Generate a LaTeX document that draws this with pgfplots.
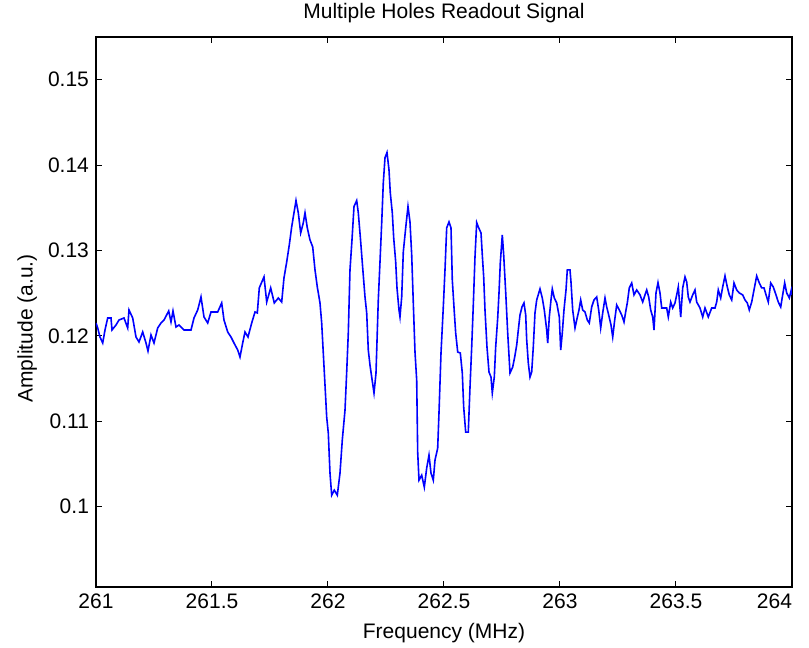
\documentclass[border=0pt]{standalone}
\usepackage{pgfplots}
\pgfplotsset{compat=1.18}
\usepackage{fontspec}
\setmainfont{Liberation Sans}
\begin{document}
\begin{tikzpicture}[font=\fontsize{10.5}{12.6}\selectfont]
\begin{axis}[
  at={(0,0)}, anchor=south west,
  scale only axis, width=348pt, height=275pt,
  xmin=261, xmax=264, ymin=0.0906, ymax=0.155,
  xtick={261,261.5,262,262.5,263,263.5,264},
  xticklabels={261,261.5,262,262.5,263,263.5,\makebox[0pt][r]{264}},
  ytick={0.1,0.11,0.12,0.13,0.14,0.15},
  yticklabels={0.1,0.11,0.12,0.13,0.14,0.15},
  scaled x ticks=false, scaled y ticks=false,
  tick align=inside, major tick length=3pt,
  tick style={black, line width=0.5pt},
  axis line style={black, line width=0.6pt},
  xtick pos=both, ytick pos=both,
  title={Multiple Holes Readout Signal},
  every axis title/.style={at={(axis description cs:0.5,1.0436)}, anchor=center},
  xlabel={Frequency (MHz)},
  xlabel style={at={(axis description cs:0.5,-0.0836)}, anchor=center},
  ylabel={Amplitude (a.u.)},
  ylabel style={at={(axis description cs:-0.099,0.47)}, anchor=center},
  /pgf/number format/assume math mode=true,
]
\addplot[color={rgb,255:red,0;green,0;blue,255}, line width=0.8pt, mark=none] coordinates {
(261.0000,0.12151)(261.0073,0.12093)(261.0172,0.11987)(261.0289,0.11917)(261.0388,0.12069)
(261.0504,0.12210)(261.0647,0.12210)(261.0690,0.12069)(261.0862,0.12128)(261.0991,0.12186)
(261.1207,0.12210)(261.1366,0.12093)(261.1422,0.12304)(261.1582,0.12210)(261.1724,0.11987)
(261.1853,0.11929)(261.2013,0.12046)(261.2155,0.11917)(261.2241,0.11823)(261.2371,0.12011)
(261.2500,0.11917)(261.2659,0.12093)(261.2802,0.12151)(261.2931,0.12186)(261.3134,0.12292)
(261.3233,0.12163)(261.3319,0.12292)(261.3448,0.12104)(261.3578,0.12128)(261.3793,0.12069)
(261.4095,0.12069)(261.4224,0.12210)(261.4384,0.12304)(261.4526,0.12456)(261.4655,0.12222)
(261.4815,0.12151)(261.4957,0.12280)(261.5246,0.12280)(261.5418,0.12386)(261.5517,0.12186)
(261.5677,0.12046)(261.5819,0.11987)(261.5948,0.11917)(261.6108,0.11835)(261.6207,0.11753)
(261.6323,0.11917)(261.6422,0.12046)(261.6552,0.11987)(261.6711,0.12151)(261.6853,0.12280)
(261.6953,0.12269)(261.7039,0.12562)(261.7241,0.12691)(261.7358,0.12397)(261.7530,0.12562)
(261.7685,0.12386)(261.7858,0.12444)(261.8004,0.12397)(261.8103,0.12679)(261.8220,0.12866)
(261.8332,0.13066)(261.8435,0.13277)(261.8534,0.13441)(261.8621,0.13585)(261.8720,0.13441)
(261.8823,0.13206)(261.8935,0.13324)(261.9009,0.13441)(261.9108,0.13265)(261.9224,0.13124)
(261.9341,0.13042)(261.9440,0.12773)(261.9539,0.12573)(261.9655,0.12386)(261.9728,0.12151)
(261.9797,0.11800)(261.9871,0.11424)(261.9944,0.11049)(262.0013,0.10862)(262.0086,0.10393)
(262.0159,0.10135)(262.0272,0.10194)(262.0401,0.10135)(262.0517,0.10393)(262.0616,0.10780)
(262.0733,0.11131)(262.0806,0.11577)(262.0875,0.12034)(262.0948,0.12773)(262.1034,0.13124)
(262.1121,0.13515)(262.1237,0.13585)(262.1306,0.13441)(262.1409,0.13104)(262.1496,0.12796)
(262.1595,0.12456)(262.1668,0.12269)(262.1737,0.11835)(262.1810,0.11659)(262.1884,0.11518)
(262.1983,0.11331)(262.2069,0.11565)(262.2168,0.12421)(262.2241,0.12866)(262.2315,0.13324)
(262.2384,0.13793)(262.2457,0.14086)(262.2543,0.14148)(262.2629,0.13945)(262.2685,0.13675)
(262.2772,0.13441)(262.2832,0.13148)(262.2918,0.12866)(262.2974,0.12562)(262.3060,0.12304)
(262.3103,0.12222)(262.3177,0.12456)(262.3246,0.12984)(262.3349,0.13265)(262.3448,0.13515)
(262.3534,0.13335)(262.3608,0.12948)(262.3677,0.12386)(262.3750,0.11811)(262.3823,0.11483)
(262.3866,0.10639)(262.3922,0.10311)(262.4039,0.10369)(262.4151,0.10229)(262.4254,0.10452)
(262.4353,0.10604)(262.4440,0.10393)(262.4539,0.10311)(262.4612,0.10545)(262.4728,0.10686)
(262.4784,0.11096)(262.4871,0.11800)(262.4970,0.12339)(262.5043,0.12773)(262.5116,0.13265)
(262.5216,0.13335)(262.5302,0.13265)(262.5358,0.12655)(262.5444,0.12280)(262.5504,0.12034)
(262.5591,0.11811)(262.5703,0.11800)(262.5789,0.11565)(262.5849,0.11167)(262.5935,0.10874)
(262.6047,0.10874)(262.6121,0.11401)(262.6194,0.11870)(262.6263,0.12362)(262.6336,0.12925)
(262.6409,0.13327)(262.6478,0.13277)(262.6595,0.13206)(262.6651,0.12948)(262.6711,0.12691)
(262.6767,0.12304)(262.6853,0.11870)(262.6940,0.11577)(262.7026,0.11518)(262.7082,0.11331)
(262.7168,0.11518)(262.7228,0.11870)(262.7315,0.12210)(262.7371,0.12503)(262.7427,0.12855)
(262.7513,0.13183)(262.7573,0.12948)(262.7659,0.12515)(262.7746,0.12034)(262.7845,0.11565)
(262.7961,0.11635)(262.8047,0.11753)(262.8134,0.11893)(262.8203,0.12069)(262.8276,0.12245)
(262.8362,0.12339)(262.8448,0.12386)(262.8522,0.12245)(262.8565,0.11952)(262.8634,0.11682)
(262.8707,0.11518)(262.8780,0.11577)(262.8849,0.11870)(262.8922,0.12269)(262.8996,0.12421)
(262.9138,0.12550)(262.9237,0.12444)(262.9323,0.12304)(262.9427,0.12069)(262.9470,0.11917)
(262.9539,0.12222)(262.9612,0.12421)(262.9668,0.12550)(262.9754,0.12444)(262.9858,0.12386)
(262.9970,0.12222)(263.0030,0.11835)(263.0099,0.12034)(263.0172,0.12304)(263.0259,0.12538)
(263.0315,0.12773)(263.0431,0.12773)(263.0474,0.12632)(263.0547,0.12304)(263.0647,0.12093)
(263.0720,0.12186)(263.0819,0.12304)(263.0892,0.12421)(263.0978,0.12304)(263.1078,0.12280)
(263.1177,0.12186)(263.1263,0.12151)(263.1366,0.12339)(263.1466,0.12421)(263.1582,0.12456)
(263.1668,0.12304)(263.1754,0.12093)(263.1841,0.12269)(263.1940,0.12444)(263.2013,0.12339)
(263.2099,0.12245)(263.2198,0.12128)(263.2272,0.11987)(263.2358,0.12186)(263.2444,0.12362)
(263.2556,0.12304)(263.2659,0.12245)(263.2759,0.12163)(263.2845,0.12304)(263.2901,0.12386)
(263.2987,0.12562)(263.3091,0.12620)(263.3190,0.12480)(263.3306,0.12538)(263.3448,0.12480)
(263.3565,0.12397)(263.3664,0.12480)(263.3737,0.12538)(263.3823,0.12456)(263.3909,0.12304)
(263.3996,0.12222)(263.4052,0.12069)(263.4138,0.12503)(263.4224,0.12624)(263.4310,0.12503)
(263.4384,0.12327)(263.4483,0.12327)(263.4599,0.12327)(263.4668,0.12222)(263.4772,0.12397)
(263.4858,0.12327)(263.4957,0.12386)(263.5030,0.12480)(263.5099,0.12573)(263.5203,0.12222)
(263.5289,0.12562)(263.5388,0.12691)(263.5461,0.12632)(263.5530,0.12456)(263.5603,0.12397)
(263.5720,0.12480)(263.5819,0.12538)(263.5892,0.12397)(263.6034,0.12327)(263.6151,0.12222)
(263.6250,0.12327)(263.6392,0.12222)(263.6539,0.12327)(263.6681,0.12327)(263.6754,0.12397)
(263.6823,0.12538)(263.6927,0.12444)(263.7013,0.12573)(263.7112,0.12702)(263.7211,0.12573)
(263.7297,0.12480)(263.7401,0.12421)(263.7500,0.12620)(263.7616,0.12538)(263.7728,0.12503)
(263.7875,0.12480)(263.7974,0.12421)(263.8073,0.12386)(263.8159,0.12304)(263.8263,0.12397)
(263.8362,0.12538)(263.8478,0.12702)(263.8590,0.12620)(263.8694,0.12562)(263.8793,0.12562)
(263.8909,0.12456)(263.8978,0.12397)(263.9082,0.12620)(263.9194,0.12573)(263.9310,0.12480)
(263.9409,0.12397)(263.9513,0.12339)(263.9599,0.12480)(263.9685,0.12620)(263.9772,0.12503)
(263.9884,0.12444)(263.9970,0.12538)(264.0000,0.12480)
};
\end{axis}
\pgfresetboundingbox
\path (-48pt,-30.5pt) rectangle (356.5pt,293.5pt);
\end{tikzpicture}
\end{document}
